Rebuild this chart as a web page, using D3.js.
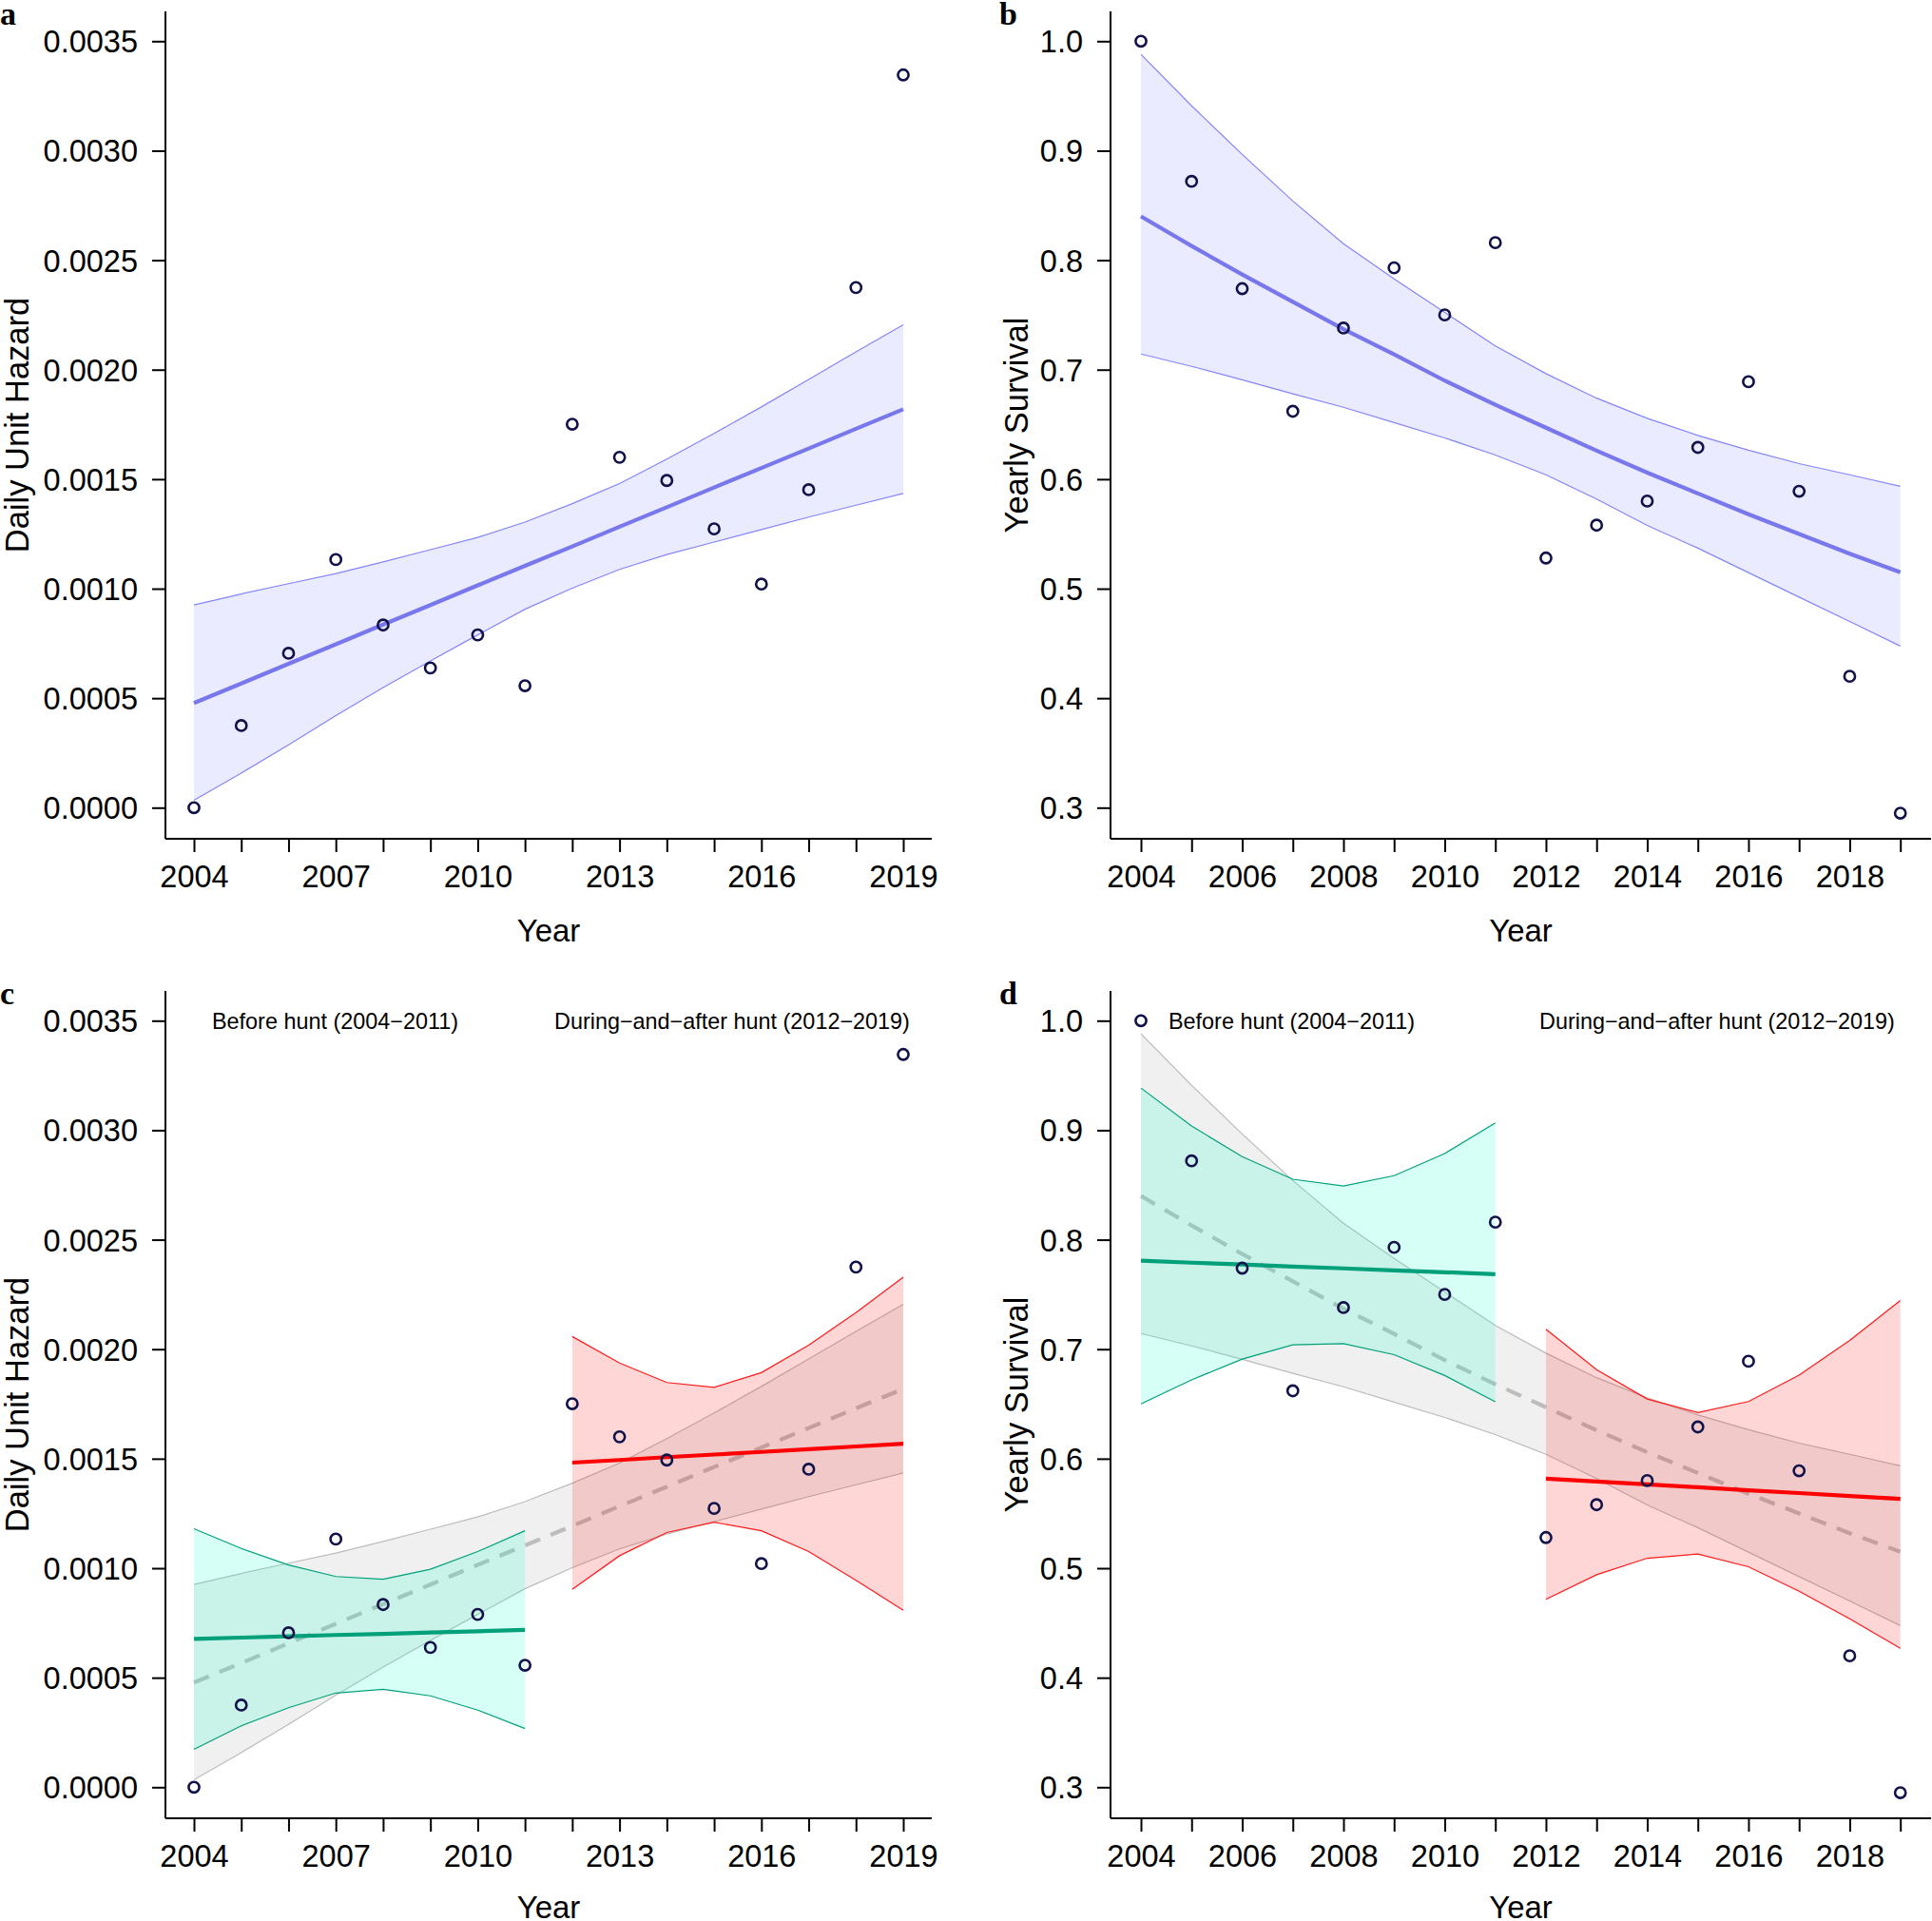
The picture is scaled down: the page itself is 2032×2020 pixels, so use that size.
<!DOCTYPE html>
<html><head><meta charset="utf-8">
<script src="https://cdn.jsdelivr.net/npm/d3@7"></script>
<style>body{margin:0;background:#fff} svg{display:block}</style>
</head><body>
<svg id="chart" width="2032" height="2020"></svg>
<script>
// ---------- DATA ----------
const years = [2004,2005,2006,2007,2008,2009,2010,2011,2012,2013,2014,2015,2016,2017,2018,2019];
const beforeYears = [2004,2005,2006,2007,2008,2009,2010,2011];
const afterYears = [2012,2013,2014,2015,2016,2017,2018,2019];

const hazardObs = [0.0000,0.000375,0.000705,0.001133,0.000834,0.000638,0.000789,0.000557,0.001751,0.001600,0.001494,0.001273,0.001021,0.001452,0.002375,0.003346];
const survivalObs = [1.000,0.872,0.774,0.662,0.738,0.793,0.750,0.816,0.528,0.558,0.580,0.629,0.689,0.589,0.420,0.295];

const hazardFit = [0.000478,0.000567,0.000657,0.000746,0.000836,0.000925,0.001015,0.001104,0.001193,0.001283,0.001372,0.001462,0.001551,0.001640,0.001730,0.001819];
const hazardHi  = [0.000926,0.000976,0.001023,0.001069,0.001122,0.001178,0.001234,0.001304,0.001388,0.001480,0.001592,0.001709,0.001830,0.001955,0.002081,0.002205];
const hazardLo  = [0.000034,0.000158,0.000287,0.000420,0.000548,0.000670,0.000789,0.000906,0.001002,0.001088,0.001156,0.001213,0.001270,0.001327,0.001381,0.001435];

const survivalFit = [0.840,0.813,0.787,0.762,0.737,0.714,0.690,0.668,0.647,0.626,0.606,0.587,0.568,0.550,0.532,0.515];
const survivalHi  = [0.988,0.941,0.8966,0.854,0.815,0.783,0.7523,0.7216,0.6964,0.674,0.6556,0.640,0.6265,0.6142,0.604,0.5935];
const survivalLo  = [0.7143,0.703,0.6908,0.678,0.6657,0.6517,0.6377,0.622,0.604,0.5818,0.5577,0.537,0.5147,0.4923,0.470,0.4476];

const hazardBeforeFit = [0.000677,0.000683,0.000689,0.000695,0.000700,0.000706,0.000712,0.000718];
const hazardBeforeLo  = [0.000173,0.000280,0.000363,0.000430,0.000447,0.000417,0.000352,0.000268];
const hazardBeforeHi  = [0.001180,0.001090,0.001015,0.000962,0.000950,0.000995,0.001076,0.001171];
const hazardAfterFit  = [0.001482,0.001494,0.001507,0.001519,0.001531,0.001543,0.001556,0.001568];
const hazardAfterLo   = [0.000903,0.001057,0.001163,0.001210,0.001171,0.001076,0.000945,0.000808];
const hazardAfterHi   = [0.002058,0.001937,0.001848,0.001826,0.001893,0.002018,0.002167,0.002329];

const survivalBeforeFit = [0.7808,0.7790,0.7773,0.7755,0.7738,0.7720,0.7703,0.7685];
const survivalBeforeLo  = [0.650,0.672,0.691,0.704,0.705,0.695,0.676,0.652];
const survivalBeforeHi  = [0.9385,0.9038,0.8759,0.8552,0.849,0.8585,0.8787,0.9066];
const survivalAfterFit  = [0.5818,0.5792,0.5765,0.5739,0.5712,0.5686,0.5659,0.5633];
const survivalAfterLo   = [0.4716,0.494,0.5091,0.513,0.5013,0.4789,0.4538,0.4269];
const survivalAfterHi   = [0.7182,0.6813,0.6545,0.6422,0.6522,0.6763,0.7081,0.7445];

const hazardTicks = [0,0.0005,0.0010,0.0015,0.0020,0.0025,0.0030,0.0035];
const survivalTicks = [0.3,0.4,0.5,0.6,0.7,0.8,0.9,1.0];
const hazardYearLabels = [2004,2007,2010,2013,2016,2019];
const survivalYearLabels = [2004,2006,2008,2010,2012,2014,2016,2018];
const legendLabels = ["Before hunt (2004\u22122011)", "During\u2212and\u2212after hunt (2012\u22122019)"];

// ---------- DRAW ----------
const svg = d3.select('#chart');
const FONT = "'Liberation Sans', Arial, Helvetica, sans-serif";

function panel(o) {
  const g = svg.append('g');
  const x = d3.scaleLinear().domain([2004, 2019]).range([o.x0, o.x1]);
  const y = d3.scaleLinear().domain(o.yDom).range([o.dy + 849.3, o.dy + 43.3]);
  const top = o.dy + 12, bottom = o.dy + 882;

  const areaOf = (xs, lo, hi) => d3.area().x((d, i) => x(xs[i])).y0((d, i) => y(lo[i])).y1((d, i) => y(hi[i]))(xs);
  const lineOf = (xs, v) => d3.line().x((d, i) => x(xs[i])).y((d, i) => y(v[i]))(xs);

  function bandSet(xs, lo, hi, fit, fill, edge, lineCol, lineW, dash) {
    g.append('path').attr('d', areaOf(xs, lo, hi)).attr('fill', fill);
    g.append('path').attr('d', lineOf(xs, lo)).attr('fill', 'none').attr('stroke', edge).attr('stroke-width', 1.2);
    g.append('path').attr('d', lineOf(xs, hi)).attr('fill', 'none').attr('stroke', edge).attr('stroke-width', 1.2);
    const fl = g.append('path').attr('d', lineOf(xs, fit)).attr('fill', 'none').attr('stroke', lineCol).attr('stroke-width', lineW);
    if (dash) fl.attr('stroke-dasharray', dash);
  }

  if (!o.split) {
    bandSet(years, o.lo, o.hi, o.fit, 'rgba(0,0,255,0.08)', '#8585fa', '#7878ec', 4.2);
  } else {
    bandSet(years, o.lo, o.hi, o.fit, '#f0f0f0', '#bcbcbc', '#bdbdbd', 4.2, '17,12');
    bandSet(beforeYears, o.bLo, o.bHi, o.bFit, 'rgba(0,255,200,0.16)', '#00a07a', '#00a07a', 4.2);
    bandSet(afterYears, o.aLo, o.aHi, o.aFit, 'rgba(255,0,0,0.16)', '#ff1a1a', '#ff0000', 4.2);
  }

  // points
  g.append('g').selectAll('circle').data(o.obs).join('circle')
    .attr('cx', (d, i) => x(years[i])).attr('cy', d => y(d)).attr('r', 5.6)
    .attr('fill', 'none').attr('stroke', '#12124a').attr('stroke-width', 2.6);

  // box lines (bty = "l")
  g.append('line').attr('x1', o.left).attr('x2', o.left).attr('y1', top).attr('y2', bottom).attr('stroke', '#000').attr('stroke-width', 2);
  g.append('line').attr('x1', o.left).attr('x2', o.right).attr('y1', bottom).attr('y2', bottom).attr('stroke', '#000').attr('stroke-width', 2);

  // y axis
  const ya = g.append('g').attr('transform', `translate(${o.left},0)`)
    .call(d3.axisLeft(y).tickValues(o.yTicks).tickSize(14).tickPadding(15).tickFormat(d3.format(o.yFmt)));
  // x axis
  const xa = g.append('g').attr('transform', `translate(0,${bottom})`)
    .call(d3.axisBottom(x).tickValues(years).tickSize(14).tickPadding(14)
      .tickFormat(d => o.xLabels.includes(d) ? String(d) : ''));
  [ya, xa].forEach(a => {
    a.select('.domain').remove();
    a.attr('font-family', FONT).attr('font-size', 32.5).attr('color', '#000');
    a.selectAll('.tick line').attr('stroke-width', 2);
  });
  ya.selectAll('.tick text').attr('dy', '0.355em');

  // titles
  g.append('text').attr('x', (o.left + o.right) / 2).attr('y', Math.min(o.dy + 990, 2017))
    .attr('text-anchor', 'middle').attr('font-family', FONT).attr('font-size', 33).text('Year');
  g.append('text').attr('transform', `translate(${o.yTitleX},${o.dy + 447}) rotate(-90)`)
    .attr('text-anchor', 'middle').attr('font-family', FONT).attr('font-size', 34.5).text(o.yTitle);
  // panel letter
  g.append('text').attr('x', o.labelX).attr('y', o.dy + 26)
    .attr('font-family', "'Liberation Serif', 'Times New Roman', serif").attr('font-weight', 'bold')
    .attr('font-size', 34).text(o.label);

  if (o.split) {
    const ly = o.dy + 43.3 + 8.3;
    g.append('text').attr('x', o.leg1X).attr('y', ly).attr('font-family', FONT).attr('font-size', 23.4).text(legendLabels[0]);
    g.append('text').attr('x', o.leg2X).attr('y', ly).attr('font-family', FONT).attr('font-size', 23.4).text(legendLabels[1]);
  }
}

const hazardCommon = { x0: 204, x1: 950, left: 174, right: 980, yDom: [0, 0.0035], yTicks: hazardTicks, yFmt: '.4f',
  xLabels: hazardYearLabels, yTitle: 'Daily Unit Hazard', yTitleX: 30, labelX: 0,
  obs: hazardObs, fit: hazardFit, lo: hazardLo, hi: hazardHi };
const survivalCommon = { x0: 1200, x1: 1998.7, left: 1168, right: 2031, yDom: [0.3, 1.0], yTicks: survivalTicks, yFmt: '.1f',
  xLabels: survivalYearLabels, yTitle: 'Yearly Survival', yTitleX: 1081, labelX: 1051,
  obs: survivalObs, fit: survivalFit, lo: survivalLo, hi: survivalHi };

panel(Object.assign({}, hazardCommon, { dy: 0, label: 'a' }));
panel(Object.assign({}, survivalCommon, { dy: 0, label: 'b' }));
panel(Object.assign({}, hazardCommon, { dy: 1030, label: 'c', split: true,
  bFit: hazardBeforeFit, bLo: hazardBeforeLo, bHi: hazardBeforeHi,
  aFit: hazardAfterFit, aLo: hazardAfterLo, aHi: hazardAfterHi, leg1X: 223, leg2X: 583 }));
panel(Object.assign({}, survivalCommon, { dy: 1030, label: 'd', split: true,
  bFit: survivalBeforeFit, bLo: survivalBeforeLo, bHi: survivalBeforeHi,
  aFit: survivalAfterFit, aLo: survivalAfterLo, aHi: survivalAfterHi, leg1X: 1229, leg2X: 1619 }));
</script>
</body></html>
